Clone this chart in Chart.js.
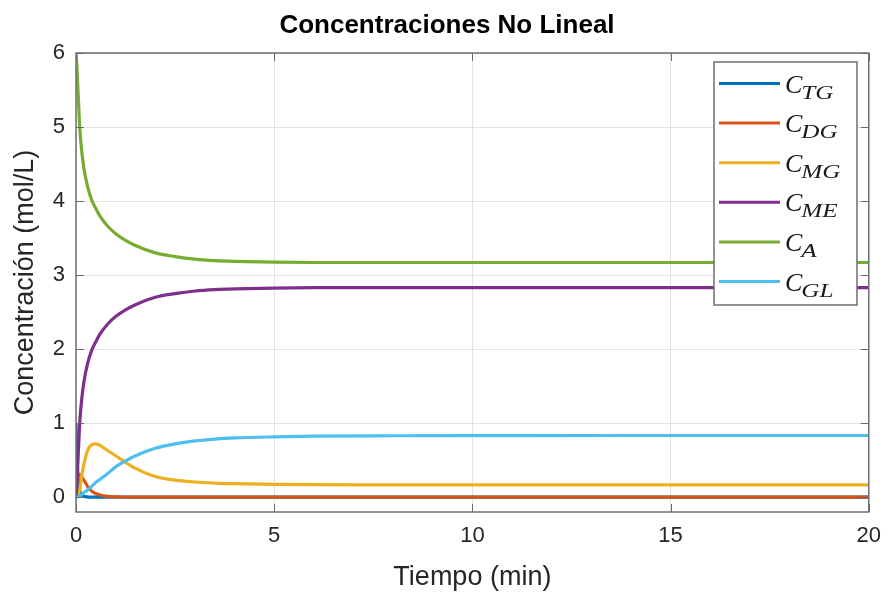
<!DOCTYPE html>
<html>
<head>
<meta charset="utf-8">
<script src="https://cdn.jsdelivr.net/npm/chart.js@4/dist/chart.umd.min.js"></script>
<style>
  html, body { margin: 0; padding: 0; background: #ffffff; }
  #wrap { width: 892px; height: 600px; }
</style>
</head>
<body>
<div id="wrap"><canvas id="c" width="892" height="600"></canvas></div>
<script>
// Time samples (min)
const time = [0, 0.02, 0.05, 0.1, 0.15, 0.2, 0.3, 0.4, 0.5, 0.6, 0.8, 1.0, 1.25, 1.5, 2, 2.5, 3, 3.5, 4, 5, 6, 8, 10, 14, 20];

// Concentrations (mol/L)
const cTG = [1.0, 0.6, 0.28, 0.08, 0.03, 0.012, 0.003, 0, 0, 0, 0, 0, 0, 0, 0, 0, 0, 0, 0, 0, 0, 0, 0, 0, 0];
const cDG = [0, 0.18, 0.29, 0.31, 0.27, 0.23, 0.14, 0.08, 0.05, 0.03, 0.012, 0.005, 0.002, 0, 0, 0, 0, 0, 0, 0, 0, 0, 0, 0, 0];
const cMG = [0, 0.01, 0.03, 0.12, 0.3, 0.45, 0.64, 0.71, 0.72, 0.7, 0.63, 0.56, 0.47, 0.39, 0.28, 0.23, 0.205, 0.19, 0.182, 0.173, 0.169, 0.167, 0.166, 0.166, 0.166];
const cME = [0, 0.15, 0.5, 1.05, 1.35, 1.56, 1.82, 1.99, 2.1, 2.2, 2.34, 2.44, 2.53, 2.6, 2.7, 2.75, 2.785, 2.805, 2.815, 2.825, 2.83, 2.83, 2.83, 2.83, 2.83];
const cA  = [6.0, 5.85, 5.5, 4.95, 4.65, 4.44, 4.18, 4.01, 3.9, 3.8, 3.66, 3.56, 3.47, 3.4, 3.3, 3.25, 3.215, 3.195, 3.185, 3.175, 3.17, 3.17, 3.17, 3.17, 3.17];
const cGL = [0, 0, 0.005, 0.02, 0.04, 0.06, 0.1, 0.15, 0.2, 0.24, 0.32, 0.41, 0.49, 0.56, 0.66, 0.72, 0.76, 0.785, 0.8, 0.815, 0.825, 0.83, 0.832, 0.833, 0.833];

// Species subscripts for the legend (C with subscript)
const species = ['TG', 'DG', 'MG', 'ME', 'A', 'GL'];
const seriesValues = [cTG, cDG, cMG, cME, cA, cGL];

// Axis ticks
const xTicks = [0, 5, 10, 15, 20];
const yTicks = [0, 1, 2, 3, 4, 5, 6];

const colors = ['#0072BD', '#D95319', '#EDB120', '#7E2F8E', '#77AC30', '#4DBEEE'];

// later series are painted over earlier ones
const datasets = species.map((s, i) => ({
  label: 'C_' + s,
  data: time.map((t, k) => ({ x: t, y: seriesValues[i][k] })),
  borderColor: colors[i],
  backgroundColor: colors[i],
  borderWidth: 3.2,
  pointRadius: 0,
  fill: false,
  order: species.length - i,
  cubicInterpolationMode: 'monotone'
}));

// Box, inner tick marks, title and legend drawn on the canvas
const decorations = {
  id: 'decorations',
  afterDatasetsDraw(chart) {
    const { ctx, chartArea: a, scales } = chart;
    ctx.save();
    // inner tick marks on all four sides
    ctx.strokeStyle = '#6a6a6a';
    ctx.lineWidth = 1;
    const tl = 8;
    xTicks.forEach(v => {
      const px = Math.round(scales.x.getPixelForValue(v)) + 0.5;
      ctx.beginPath();
      ctx.moveTo(px, a.bottom); ctx.lineTo(px, a.bottom - tl);
      ctx.moveTo(px, a.top); ctx.lineTo(px, a.top + tl);
      ctx.stroke();
    });
    yTicks.forEach(v => {
      const py = Math.round(scales.y.getPixelForValue(v)) + 0.5;
      ctx.beginPath();
      ctx.moveTo(a.left, py); ctx.lineTo(a.left + tl, py);
      ctx.moveTo(a.right, py); ctx.lineTo(a.right - tl, py);
      ctx.stroke();
    });
    // axes box
    ctx.strokeStyle = '#6f6f6f';
    ctx.lineWidth = 1.5;
    ctx.strokeRect(a.left, a.top, a.right - a.left, a.bottom - a.top);
    ctx.restore();
  },
  afterDraw(chart) {
    const { ctx } = chart;
    ctx.save();
    // title
    ctx.fillStyle = '#000000';
    ctx.font = 'bold 26px "Liberation Sans", Arial, sans-serif';
    ctx.textAlign = 'center';
    ctx.textBaseline = 'middle';
    ctx.fillText('Concentraciones No Lineal', 447, 26);

    // legend
    const lx = 714, ly = 62, lw = 143, lh = 243;
    ctx.fillStyle = '#ffffff';
    ctx.fillRect(lx, ly, lw, lh);
    ctx.strokeStyle = '#6f6f6f';
    ctx.lineWidth = 1.5;
    ctx.strokeRect(lx, ly, lw, lh);
    const step = 39.6;
    chart.data.datasets.forEach((ds, i) => {
      const y = 83.5 + i * step;
      ctx.strokeStyle = ds.borderColor;
      ctx.lineWidth = 3;
      ctx.beginPath();
      ctx.moveTo(719, y);
      ctx.lineTo(780, y);
      ctx.stroke();
      ctx.fillStyle = '#1a1a1a';
      ctx.textAlign = 'left';
      ctx.textBaseline = 'alphabetic';
      ctx.font = 'italic 26px "Liberation Serif", "Times New Roman", serif';
      ctx.fillText('C', 785, y + 9);
      const cw = ctx.measureText('C').width;
      // subscript, drawn slightly widened like math-italic script glyphs
      ctx.font = 'italic 18px "Liberation Serif", "Times New Roman", serif';
      ctx.save();
      ctx.translate(785 + cw - 1, y + 15);
      ctx.scale(1.4, 1);
      ctx.fillText(species[i], 0, 0);
      ctx.restore();
    });
    ctx.restore();
  }
};

new Chart(document.getElementById('c'), {
  type: 'line',
  data: { datasets },
  options: {
    responsive: false,
    animation: false,
    layout: { padding: { left: 0, top: 53, right: 19, bottom: 0 } },
    plugins: {
      legend: { display: false },
      title: { display: false },
      tooltip: { enabled: false }
    },
    scales: {
      x: {
        type: 'linear',
        min: 0,
        max: 20,
        afterBuildTicks(scale) { scale.ticks = xTicks.map(v => ({ value: v })); },
        afterFit(scale) { scale.height = 88; },
        grid: { color: '#e3e3e3', lineWidth: 1, drawTicks: false },
        border: { display: false },
        ticks: {
          padding: 11,
          color: '#262626',
          font: { family: '"Liberation Sans", Arial, sans-serif', size: 22 },
          maxRotation: 0
        },
        title: {
          display: true,
          text: 'Tiempo (min)',
          color: '#262626',
          font: { family: '"Liberation Sans", Arial, sans-serif', size: 27 },
          padding: { top: 0, bottom: 6 }
        }
      },
      y: {
        type: 'linear',
        min: -0.2,
        max: 6,
        afterBuildTicks(scale) { scale.ticks = yTicks.map(v => ({ value: v })); },
        afterFit(scale) { scale.width = 76; },
        grid: { color: '#e3e3e3', lineWidth: 1, drawTicks: false },
        border: { display: false },
        ticks: {
          padding: 11,
          color: '#262626',
          font: { family: '"Liberation Sans", Arial, sans-serif', size: 22 }
        },
        title: {
          display: true,
          text: 'Concentración (mol/L)',
          color: '#262626',
          font: { family: '"Liberation Sans", Arial, sans-serif', size: 27 },
          padding: { top: 9, bottom: 0 }
        }
      }
    }
  },
  plugins: [decorations]
});
</script>
</body>
</html>
